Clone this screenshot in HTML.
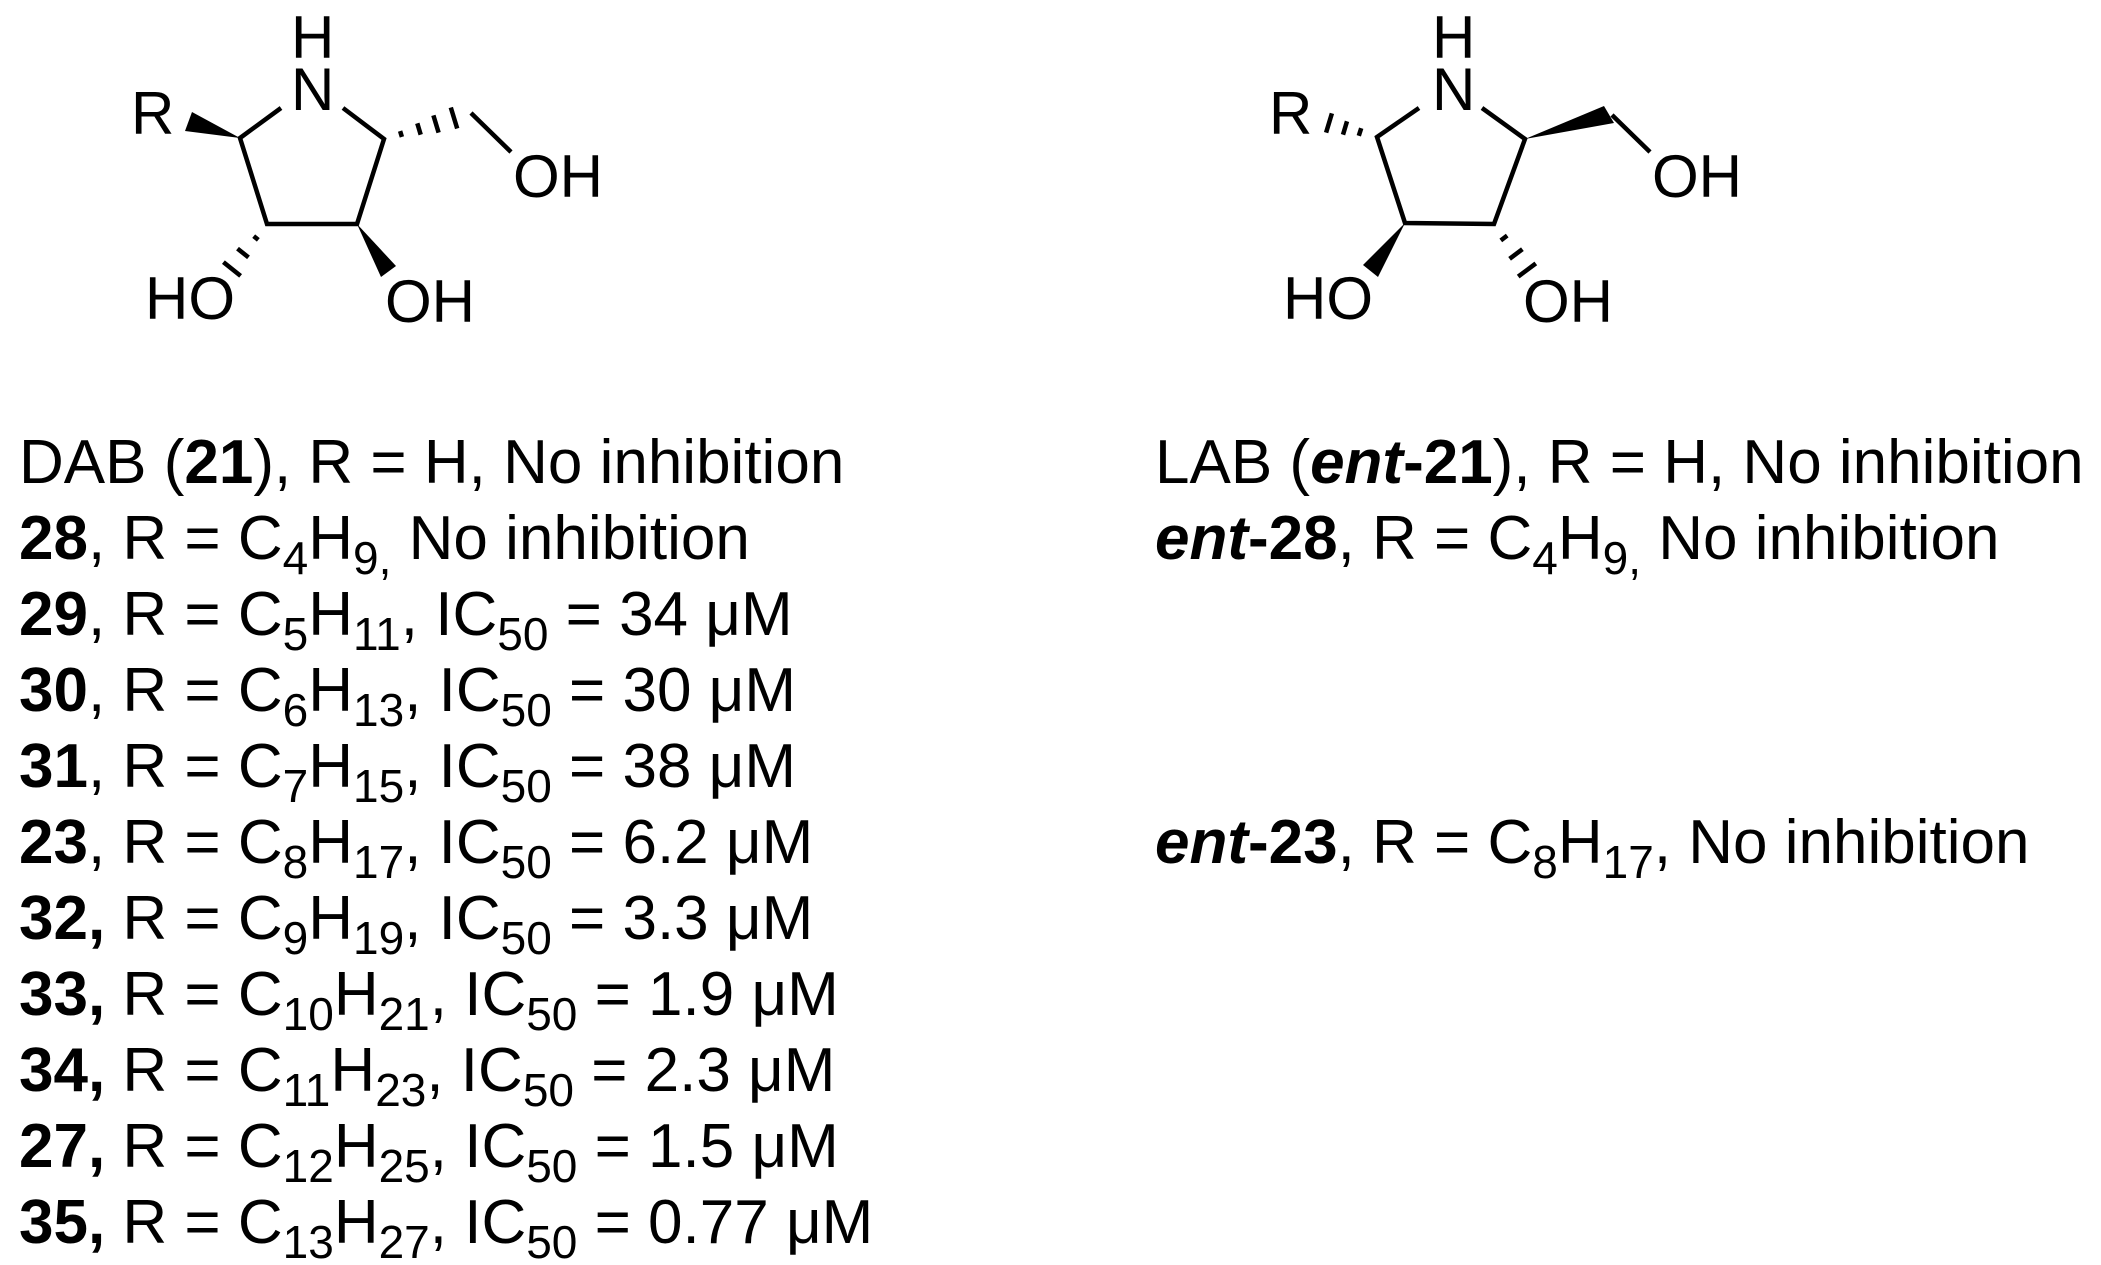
<!DOCTYPE html>
<html><head><meta charset="utf-8"><style>
html,body{margin:0;padding:0;background:#fff;}
svg{display:block;}
text{font-family:"Liberation Sans",Arial,sans-serif;fill:#000;}
</style></head><body>
<svg width="2101" height="1265" viewBox="0 0 2101 1265" xmlns="http://www.w3.org/2000/svg">
<g stroke="#000" stroke-width="4.5" fill="none" stroke-linecap="butt">
<polyline points="281,108 240,138 267,224 357,224 384,139 343,108"/>
<line x1="471" y1="113" x2="511" y2="152"/>
<line x1="400.1" y1="131.1" x2="401.9" y2="136.9"/>
<line x1="417.3" y1="123.3" x2="420.7" y2="134.7"/>
<line x1="433.4" y1="115.4" x2="438.6" y2="132.6"/>
<line x1="450.8" y1="107.5" x2="457.2" y2="128.5"/>
<line x1="253.7" y1="236.1" x2="258.3" y2="239.9"/>
<line x1="237.5" y1="248.6" x2="248.5" y2="257.4"/>
<line x1="223.4" y1="262.1" x2="240.6" y2="275.9"/>
<polyline points="1419,108 1377,137 1405,223 1494,224 1525,139 1482,108"/>
<line x1="1612" y1="115" x2="1650" y2="152"/>
<line x1="1358.8" y1="135.8" x2="1361.2" y2="128.2"/>
<line x1="1343" y1="134.7" x2="1347" y2="121.3"/>
<line x1="1326.1" y1="132.6" x2="1331.9" y2="113.4"/>
<line x1="1500.8" y1="240.4" x2="1507.2" y2="235.6"/>
<line x1="1509.6" y1="258.8" x2="1522.4" y2="249.2"/>
<line x1="1518.2" y1="276.6" x2="1535.8" y2="263.4"/>
</g>
<g fill="#000">
<polygon points="240,138 192,112 185,131"/>
<polygon points="357,224 396,266 381,277"/>
<polygon points="1525,139 1604,106 1614,123"/>
<polygon points="1405,223 1363,265 1378,277"/>
</g>
<g font-size="60">
<text x="291" y="58">H</text>
<text x="291" y="110">N</text>
<text x="131" y="134">R</text>
<text x="513" y="197">OH</text>
<text x="145" y="319">HO</text>
<text x="385" y="322">OH</text>
<text x="1432" y="58">H</text>
<text x="1432" y="110">N</text>
<text x="1269" y="134">R</text>
<text x="1652" y="197">OH</text>
<text x="1283" y="319">HO</text>
<text x="1523" y="322">OH</text>
</g>
<g font-size="62">
<text x="19" y="483">DAB (<tspan font-weight="bold">21</tspan>), R = H, No inhibition</text>
<text x="19" y="559"><tspan font-weight="bold">28</tspan>, R = C<tspan font-size="46" dy="15">4</tspan><tspan dy="-15">H</tspan><tspan font-size="46" dy="15">9,</tspan><tspan dy="-15"> No inhibition</tspan></text>
<text x="19" y="635"><tspan font-weight="bold">29</tspan>, R = C<tspan font-size="46" dy="15">5</tspan><tspan dy="-15">H</tspan><tspan font-size="46" dy="15">11</tspan><tspan dy="-15">, IC</tspan><tspan font-size="46" dy="15">50</tspan><tspan dy="-15"> = 34 μM</tspan></text>
<text x="19" y="711"><tspan font-weight="bold">30</tspan>, R = C<tspan font-size="46" dy="15">6</tspan><tspan dy="-15">H</tspan><tspan font-size="46" dy="15">13</tspan><tspan dy="-15">, IC</tspan><tspan font-size="46" dy="15">50</tspan><tspan dy="-15"> = 30 μM</tspan></text>
<text x="19" y="787"><tspan font-weight="bold">31</tspan>, R = C<tspan font-size="46" dy="15">7</tspan><tspan dy="-15">H</tspan><tspan font-size="46" dy="15">15</tspan><tspan dy="-15">, IC</tspan><tspan font-size="46" dy="15">50</tspan><tspan dy="-15"> = 38 μM</tspan></text>
<text x="19" y="863"><tspan font-weight="bold">23</tspan>, R = C<tspan font-size="46" dy="15">8</tspan><tspan dy="-15">H</tspan><tspan font-size="46" dy="15">17</tspan><tspan dy="-15">, IC</tspan><tspan font-size="46" dy="15">50</tspan><tspan dy="-15"> = 6.2 μM</tspan></text>
<text x="19" y="939"><tspan font-weight="bold">32,</tspan> R = C<tspan font-size="46" dy="15">9</tspan><tspan dy="-15">H</tspan><tspan font-size="46" dy="15">19</tspan><tspan dy="-15">, IC</tspan><tspan font-size="46" dy="15">50</tspan><tspan dy="-15"> = 3.3 μM</tspan></text>
<text x="19" y="1015"><tspan font-weight="bold">33,</tspan> R = C<tspan font-size="46" dy="15">10</tspan><tspan dy="-15">H</tspan><tspan font-size="46" dy="15">21</tspan><tspan dy="-15">, IC</tspan><tspan font-size="46" dy="15">50</tspan><tspan dy="-15"> = 1.9 μM</tspan></text>
<text x="19" y="1091"><tspan font-weight="bold">34,</tspan> R = C<tspan font-size="46" dy="15">11</tspan><tspan dy="-15">H</tspan><tspan font-size="46" dy="15">23</tspan><tspan dy="-15">, IC</tspan><tspan font-size="46" dy="15">50</tspan><tspan dy="-15"> = 2.3 μM</tspan></text>
<text x="19" y="1167"><tspan font-weight="bold">27,</tspan> R = C<tspan font-size="46" dy="15">12</tspan><tspan dy="-15">H</tspan><tspan font-size="46" dy="15">25</tspan><tspan dy="-15">, IC</tspan><tspan font-size="46" dy="15">50</tspan><tspan dy="-15"> = 1.5 μM</tspan></text>
<text x="19" y="1243"><tspan font-weight="bold">35,</tspan> R = C<tspan font-size="46" dy="15">13</tspan><tspan dy="-15">H</tspan><tspan font-size="46" dy="15">27</tspan><tspan dy="-15">, IC</tspan><tspan font-size="46" dy="15">50</tspan><tspan dy="-15"> = 0.77 μM</tspan></text>

<text x="1155" y="483">LAB (<tspan font-weight="bold" font-style="italic">ent</tspan><tspan font-weight="bold">-21</tspan>), R = H, No inhibition</text>
<text x="1155" y="559"><tspan font-weight="bold" font-style="italic">ent</tspan><tspan font-weight="bold">-28</tspan>, R = C<tspan font-size="46" dy="15">4</tspan><tspan dy="-15">H</tspan><tspan font-size="46" dy="15">9,</tspan><tspan dy="-15"> No inhibition</tspan></text>
<text x="1155" y="863"><tspan font-weight="bold" font-style="italic">ent</tspan><tspan font-weight="bold">-23</tspan>, R = C<tspan font-size="46" dy="15">8</tspan><tspan dy="-15">H</tspan><tspan font-size="46" dy="15">17</tspan><tspan dy="-15">, No inhibition</tspan></text>
</g>
</svg>
</body></html>
